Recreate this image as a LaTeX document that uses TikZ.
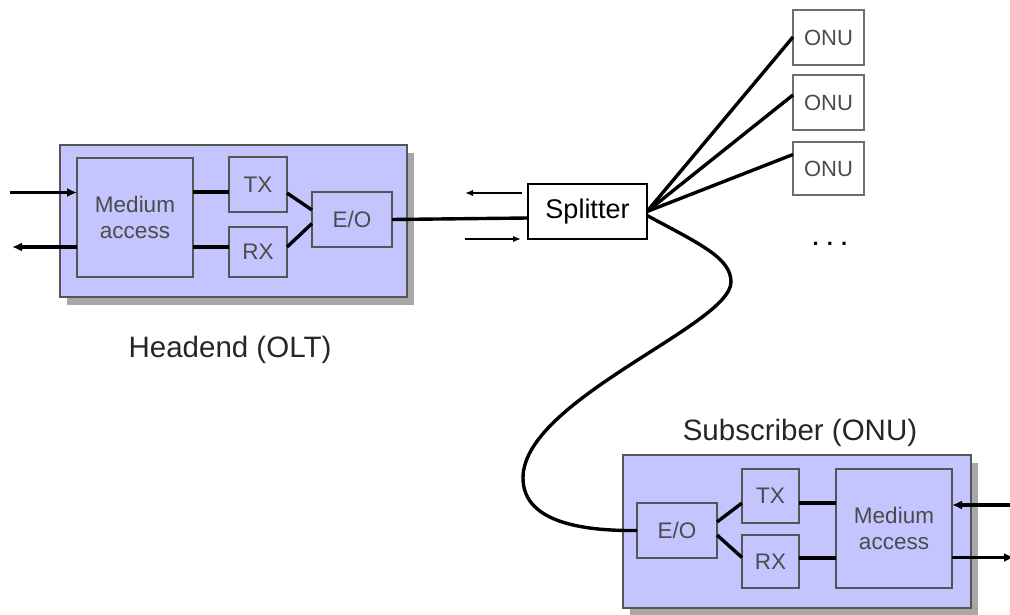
\documentclass[tikz,border=0pt]{standalone}
\usepackage{fontspec}
\setmainfont{Liberation Sans}
\usetikzlibrary{arrows.meta,shadows}
\definecolor{boxfill}{RGB}{196,196,255}
\definecolor{edgegray}{RGB}{85,85,85}
\definecolor{shadegray}{RGB}{168,168,168}
\definecolor{labelgray}{RGB}{75,75,75}
\begin{document}
\begin{tikzpicture}[x=1pt,y=-1pt,
  unit/.style={draw=edgegray,line width=2.2pt,fill=boxfill,inner sep=0pt,outer sep=0pt,
    align=center,text=labelgray,font=\fontsize{22.5}{26}\selectfont},
  housing/.style={draw=edgegray,line width=2.2pt,fill=boxfill,inner sep=0pt,outer sep=0pt,
    drop shadow={shadow xshift=7pt,shadow yshift=-8pt,fill=shadegray,opacity=1}},
  onubox/.style={draw=edgegray!85,line width=2pt,fill=white,inner sep=0pt,outer sep=0pt,
    minimum width=71pt,text=labelgray,font=\fontsize{22}{26}\selectfont},
  caption/.style={anchor=base,text=black!85,font=\fontsize{29.5}{34}\selectfont},
  fiber/.style={line width=3.4pt,black},
  wire/.style={line width=3.4pt,black},
  flow/.style={line width=1.6pt,black,-{Latex[length=8pt,width=6.5pt]}},
  io/.style={line width=3.4pt,black,-{Latex[length=10pt,width=9pt]}}]
\useasboundingbox (0,0) rectangle (1010,615);

% Headend (OLT)
\node[housing,minimum width=347pt,minimum height=152pt] (olt) at (233.5,221) {};
\node[unit,minimum width=116pt,minimum height=119pt] (ma1) at (135,217.5) {Medium\\access};
\node[unit,minimum width=58pt,minimum height=55pt] (tx1) at (258,184.5) {TX};
\node[unit,minimum width=58pt,minimum height=50pt] (rx1) at (258,252) {RX};
\node[unit,minimum width=80pt,minimum height=55pt] (eo1) at (352,219.5) {E/O};
\node[caption] (oltlabel) at (230,357) {Headend (OLT)};

% Subscriber (ONU)
\node[housing,minimum width=348pt,minimum height=153pt] (onu) at (797,531.5) {};
\node[unit,minimum width=80pt,minimum height=55pt] (eo2) at (677,530.5) {E/O};
\node[unit,minimum width=57pt,minimum height=54pt] (tx2) at (770.5,496) {TX};
\node[unit,minimum width=57pt,minimum height=53pt] (rx2) at (770.5,561.5) {RX};
\node[unit,minimum width=116pt,minimum height=119pt] (ma2) at (894,528.5) {Medium\\access};
\node[caption] (onulabel) at (800,440) {Subscriber (ONU)};

% Splitter and remote ONUs
\node[draw=black,line width=2pt,fill=white,inner sep=0pt,outer sep=0pt,
  minimum width=119pt,minimum height=55pt,font=\fontsize{27}{30}\selectfont] (split) at (587.5,211.5) {Splitter};
\node[onubox,minimum height=55pt] (onu1) at (828.5,37.5) {ONU};
\node[onubox,minimum height=55pt] (onu2) at (828.5,102.5) {ONU};
\node[onubox,minimum height=53pt] (onu3) at (828.5,168.5) {ONU};
\node[font=\fontsize{22}{26}\selectfont\bfseries] (more) at (830,244) {. . .};

% Headend internal wiring
\draw[wire] ([yshift=-7.5pt]tx1.west -| ma1.east) -- ([yshift=-7.5pt]tx1.west);
\draw[wire] ([yshift=5pt]rx1.west -| ma1.east) -- ([yshift=5pt]rx1.west);
\draw[wire] ([yshift=-8.5pt]tx1.east) -- ([yshift=9.5pt]eo1.west);
\draw[wire] ([yshift=5pt]rx1.east) -- ([yshift=-4pt]eo1.west);

% Subscriber internal wiring
\draw[wire] ([yshift=-7pt]tx2.east) -- ([yshift=-7pt]tx2.east -| ma2.west);
\draw[wire] ([yshift=3.5pt]rx2.east) -- ([yshift=3.5pt]rx2.east -| ma2.west);
\draw[wire] ([yshift=8.5pt]eo2.east) -- ([yshift=-7pt]tx2.west);
\draw[wire] ([yshift=-4.5pt]eo2.east) -- ([yshift=4pt]rx2.west);

% User-side data ports
\coordinate (oltin) at (10,192.5);
\coordinate (oltout) at (12,247);
\coordinate (onuin) at (1012,505);
\coordinate (onuout) at (1014,557.5);
\draw[io] (oltin) -- (oltin -| ma1.west);
\draw[io] (oltout -| ma1.west) -- (oltout);
\draw[io] (onuin) -- (onuin -| ma2.east);
\draw[io] (onuout -| ma2.east) -- (onuout);

% Fibre plant
\draw[fiber] (eo1.east) -- ([yshift=-6.5pt]split.west);
\draw[fiber] (split.east) -- ([yshift=0.5pt]onu1.west);
\draw[fiber] (split.east) -- ([yshift=7.5pt]onu2.west);
\draw[fiber] (split.east) -- ([yshift=14pt]onu3.west);
\draw[fiber] ([yshift=-4pt]split.east) .. controls (700,244) and (731,258) .. (731,282)
  .. controls (731,325) and (523,400) .. (523,478)
  .. controls (523,525) and (590,531) .. (eo2.west);

% Direction of traffic
\coordinate (upstart) at (522,193);
\coordinate (upend) at (465,193);
\coordinate (downstart) at (465,239);
\coordinate (downend) at (521,239);
\draw[flow] (upstart) -- (upend);
\draw[flow] (downstart) -- (downend);
\end{tikzpicture}
\end{document}
